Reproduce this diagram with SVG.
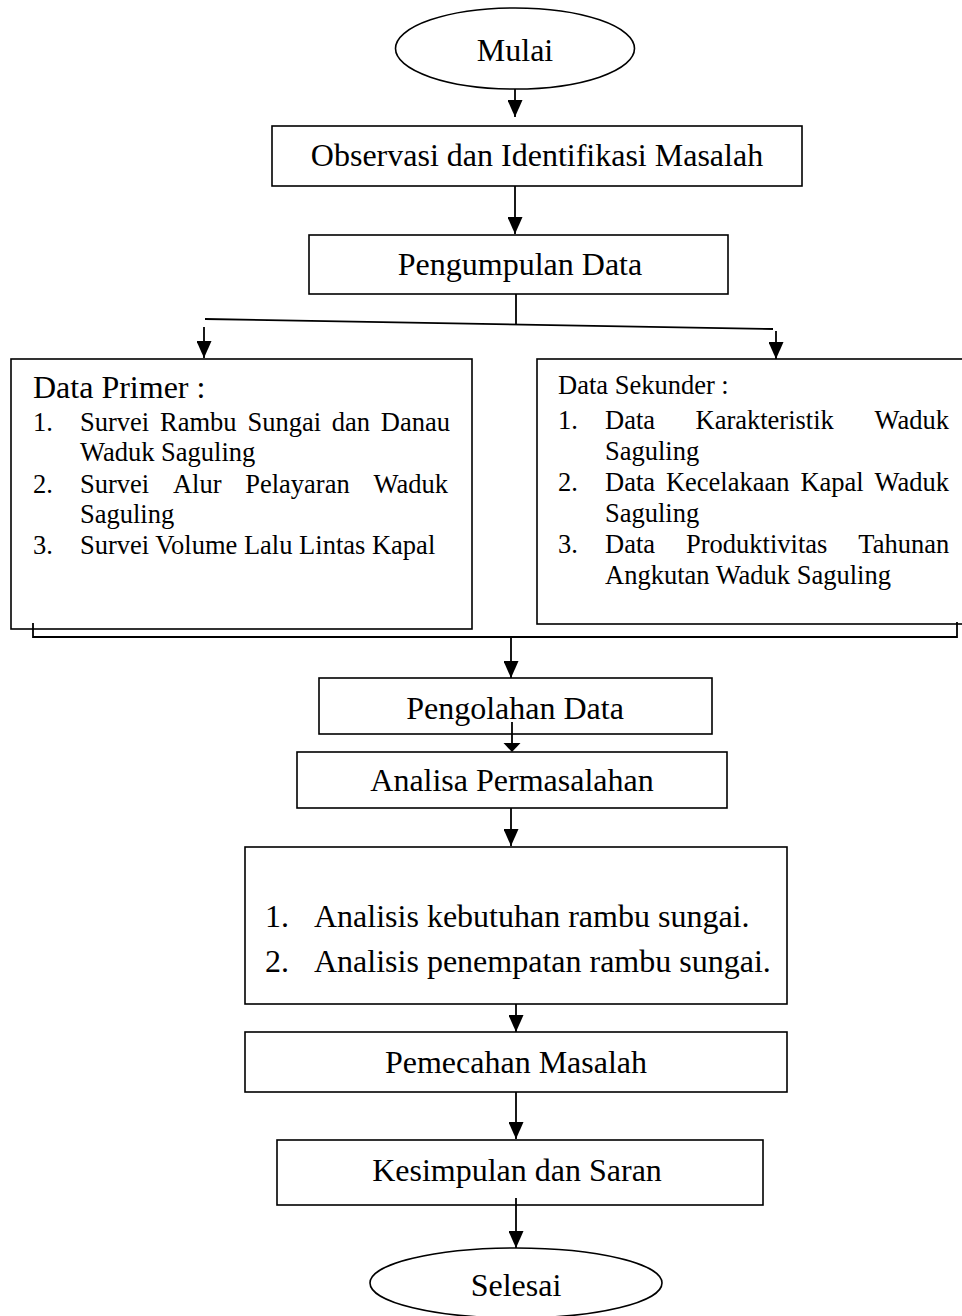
<svg xmlns="http://www.w3.org/2000/svg" width="962" height="1316" viewBox="0 0 962 1316">
<style>
.n{fill:#fff;stroke:#000;stroke-width:1.6}
.t{font-family:"Liberation Serif","Times New Roman",serif;font-size:32px;fill:#000}
.m{text-anchor:middle}
.s{font-family:"Liberation Serif","Times New Roman",serif;font-size:26.5px;fill:#000}
.c{fill:none;stroke:#000;stroke-width:1.8}
</style>
<defs>
<marker id="ah" viewBox="0 0 17 15" refX="17" refY="7.5" markerWidth="17" markerHeight="15" markerUnits="userSpaceOnUse" orient="auto">
<path d="M0,0 L17,7.5 L0,15 z" fill="#000"/>
</marker>
</defs>
<rect width="962" height="1316" fill="#fff"/>
<g id="nodes">
<g id="mulai"><ellipse class="n" cx="515" cy="48.5" rx="119.5" ry="40.5"/><text class="t m" x="515" y="61">Mulai</text></g>
<g id="observasi"><rect class="n" x="272" y="126" width="530" height="60"/><text class="t m" x="537" y="166">Observasi dan Identifikasi Masalah</text></g>
<g id="pengumpulan"><rect class="n" x="309" y="235" width="419" height="59"/><text class="t m" x="520" y="275">Pengumpulan Data</text></g>
<g id="primer"><rect class="n" x="11" y="359" width="461" height="270"/>
<text class="t" x="33" y="398">Data Primer :</text>
<text class="s" x="33" y="431">1.</text>
<text class="s" y="431"><tspan x="80">Survei</tspan><tspan x="160">Rambu</tspan><tspan x="247.4">Sungai</tspan><tspan x="331.8">dan</tspan><tspan x="380.8">Danau</tspan></text>
<text class="s" x="80" y="461">Waduk Saguling</text>
<text class="s" x="33" y="493">2.</text>
<text class="s" y="493"><tspan x="80">Survei</tspan><tspan x="172.9">Alur</tspan><tspan x="245.2">Pelayaran</tspan><tspan x="373.5">Waduk</tspan></text>
<text class="s" x="80" y="523">Saguling</text>
<text class="s" x="33" y="554">3.</text>
<text class="s" x="80" y="554">Survei Volume Lalu Lintas Kapal</text>
</g>
<g id="sekunder"><rect class="n" x="537" y="359" width="432" height="265"/>
<text class="s" x="558" y="394">Data Sekunder :</text>
<text class="s" x="558" y="429">1.</text>
<text class="s" y="429"><tspan x="605">Data</tspan><tspan x="695.5">Karakteristik</tspan><tspan x="874.5">Waduk</tspan></text>
<text class="s" x="605" y="460">Saguling</text>
<text class="s" x="558" y="491">2.</text>
<text class="s" y="491"><tspan x="605">Data</tspan><tspan x="665.9">Kecelakaan</tspan><tspan x="800.4">Kapal</tspan><tspan x="874.5">Waduk</tspan></text>
<text class="s" x="605" y="522">Saguling</text>
<text class="s" x="558" y="553">3.</text>
<text class="s" y="553"><tspan x="605">Data</tspan><tspan x="686">Produktivitas</tspan><tspan x="858.3">Tahunan</tspan></text>
<text class="s" x="605" y="584">Angkutan Waduk Saguling</text>
</g>
<g id="pengolahan"><rect class="n" x="319" y="678" width="393" height="56"/><text class="t m" x="515" y="719">Pengolahan Data</text></g>
<g id="analisa"><rect class="n" x="297" y="752" width="430" height="56"/><text class="t m" x="512" y="791">Analisa Permasalahan</text></g>
<g id="analisis"><rect class="n" x="245" y="847" width="542" height="157"/>
<text class="t" x="265" y="927">1.</text><text class="t" x="314" y="927">Analisis kebutuhan rambu sungai.</text>
<text class="t" x="265" y="972">2.</text><text class="t" x="314" y="972">Analisis penempatan rambu sungai.</text>
</g>
<g id="pemecahan"><rect class="n" x="245" y="1032" width="542" height="60"/><text class="t m" x="516" y="1073">Pemecahan Masalah</text></g>
<g id="kesimpulan"><rect class="n" x="277" y="1140" width="486" height="65"/><text class="t m" x="517" y="1181">Kesimpulan dan Saran</text></g>
<g id="selesai"><ellipse class="n" cx="516" cy="1283" rx="146" ry="35"/><text class="t m" x="516" y="1296">Selesai</text></g>
</g>
<g id="connectors">
<path class="c" d="M515,89 V117" marker-end="url(#ah)"/>
<path class="c" d="M515,186 V234" marker-end="url(#ah)"/>
<path class="c" d="M516,294 V324"/>
<path class="c" d="M205,319 L773,329"/>
<path class="c" d="M204,327 V358" marker-end="url(#ah)"/>
<path class="c" d="M776,331 V359" marker-end="url(#ah)"/>
<path class="c" d="M33,623 V637 H957 V622"/>
<path class="c" d="M511,637 V678" marker-end="url(#ah)"/>
<path class="c" d="M512,722 V745"/>
<path d="M503.5,743 L520.5,743 L512,752 z" fill="#000"/>
<path class="c" d="M511,808 V846" marker-end="url(#ah)"/>
<path class="c" d="M516,1004 V1032" marker-end="url(#ah)"/>
<path class="c" d="M516,1092 V1139" marker-end="url(#ah)"/>
<path class="c" d="M516,1198 V1248" marker-end="url(#ah)"/>
</g>
</svg>
